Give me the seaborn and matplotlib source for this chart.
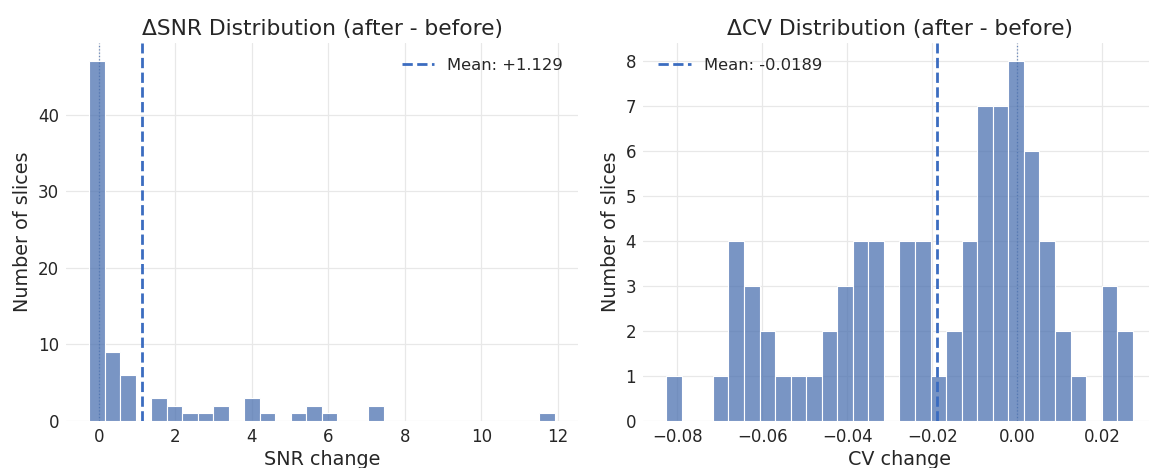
import numpy as np
import matplotlib.pyplot as plt
import seaborn as sns

sns.set_theme(style="whitegrid")
plt.rcParams['font.family'] = ['DejaVu Sans']

# histogram counts (30 bins each)
snr_range = (-0.25, 11.92)
snr_counts = [47, 9, 6, 0, 3, 2, 1, 1, 2, 0,
              3, 1, 0, 1, 2, 1, 0, 0, 2, 0,
              0, 0, 0, 0, 0, 0, 0, 0, 0, 1]
snr_mean = 1.129

cv_range = (-0.0826, 0.0272)
cv_counts = [1, 0, 0, 1, 4, 3, 2, 1, 1, 1,
             2, 3, 4, 4, 0, 4, 4, 1, 2, 4,
             7, 7, 8, 6, 4, 2, 1, 0, 3, 2]
cv_mean = -0.0189

bar_color = '#4C72B0'
text_color = '#262626'

fig = plt.figure(figsize=(11.49, 4.68), dpi=100)
ax1 = fig.add_axes([0.0574, 0.1004, 0.4456, 0.8077])
ax2 = fig.add_axes([0.5596, 0.1004, 0.4465, 0.8077])


def draw_panel(ax, rng, counts, mean, mean_fmt, title, xlabel, legend_loc):
    edges = np.linspace(rng[0], rng[1], len(counts) + 1)
    centers = (edges[:-1] + edges[1:]) / 2
    sns.histplot(x=centers, weights=counts, bins=len(counts), binrange=rng,
                 color=bar_color, alpha=0.75, edgecolor='white', linewidth=0.8, ax=ax)
    ax.axvline(0, color=bar_color, linestyle=':', linewidth=0.9, alpha=0.8)
    ax.axvline(mean, color='#3b6cc0', linestyle='--', linewidth=2,
               label=f'Mean: {mean:{mean_fmt}}')
    ax.set_title(title, fontsize=15.7, color=text_color, pad=6)
    ax.set_xlabel(xlabel, fontsize=13.8, color=text_color, labelpad=3)
    ax.set_ylabel('Number of slices', fontsize=13.8, color=text_color)
    ax.tick_params(labelsize=12, colors=text_color, length=0, pad=5)
    ax.grid(True, color='#e8e8e8', linewidth=0.9)
    ax.legend(loc=legend_loc, frameon=False, fontsize=11.8)
    sns.despine(ax=ax, left=True, bottom=True)


draw_panel(ax1, snr_range, snr_counts, snr_mean, '+.3f',
           '\u0394SNR Distribution (after - before)', 'SNR change', 'upper right')
draw_panel(ax2, cv_range, cv_counts, cv_mean, '.4f',
           '\u0394CV Distribution (after - before)', 'CV change', 'upper left')

plt.savefig('out.png', dpi=100)
